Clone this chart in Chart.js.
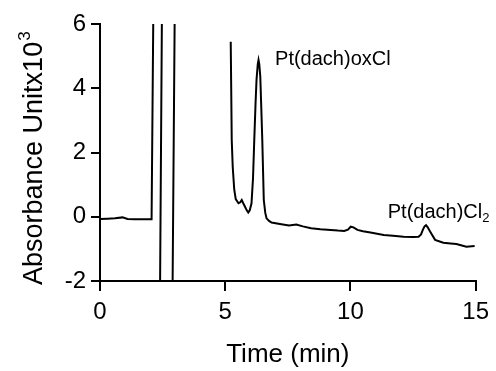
<!DOCTYPE html>
<html>
<head>
<meta charset="utf-8">
<script src="https://cdn.jsdelivr.net/npm/chart.js@4"></script>
<style>
html,body{margin:0;padding:0;background:#fff;}
#wrap{width:496px;height:371px;}
</style>
</head>
<body>
<div id="wrap"><canvas id="c" width="496" height="371"></canvas></div>
<script>
// Retention time (min)
const time = [0, 0.3, 0.6, 0.9, 1.1, 1.4, 1.8, 2.06, 2.136, 2.479, 2.391, 2.89, 2.99, 4.0,
  5.22, 5.26, 5.30, 5.36, 5.42, 5.53, 5.60, 5.66, 5.72, 5.79, 5.86, 5.92, 5.98, 6.05, 6.11, 6.16, 6.21, 6.25,
  6.30, 6.33, 6.36, 6.40, 6.44, 6.48, 6.54, 6.60, 6.65, 6.75,
  6.85, 7.24, 7.55, 7.84, 8.1, 8.43, 8.8, 9.22, 9.5, 9.75, 9.9, 10.01, 10.12, 10.28, 10.5, 10.8, 11.33, 11.7, 12.12, 12.5, 12.72, 12.82, 12.89,
  12.96, 13.02, 13.08, 13.18, 13.38, 13.71, 14.0, 14.23, 14.63, 14.96];
// Absorbance units x 10^3
const absorbance = [-0.07, -0.06, -0.05, -0.02, -0.07, -0.08, -0.08, -0.08, 7, 7, -3, -3, 7, null,
  5.45, 2.39, 1.55, 0.85, 0.55, 0.42, 0.45, 0.52, 0.42, 0.31, 0.2, 0.13, 0.2, 0.42, 1.2, 2.39, 3.5, 4.26,
  4.75, 4.88, 4.75, 4.37, 3.4, 2.39, 0.52, 0.12, -0.05, -0.13,
  -0.18, -0.23, -0.27, -0.24, -0.3, -0.36, -0.39, -0.41, -0.43, -0.44, -0.4, -0.31, -0.33, -0.41, -0.45, -0.49, -0.57, -0.59, -0.62, -0.63, -0.62, -0.55, -0.41,
  -0.3, -0.26, -0.32, -0.46, -0.72, -0.81, -0.83, -0.85, -0.93, -0.91];
const xTicks = [0, 5, 10, 15];
const yTicks = [-2, 0, 2, 4, 6];
const xTitle = 'Time (min)';
const yTitle = ['Absorbance Unitx10', '3'];
// Peak labels: [text, subscript, time, absorbance]
const peakLabels = [
  ["Pt(dach)oxCl", "", 6.99, 4.73],
  ["Pt(dach)Cl", "2", 11.49, -0.05]
];

const points = time.map((t, i) => ({x: t, y: absorbance[i]}));
const FONT = '"Liberation Sans", Arial, sans-serif';

const textPlugin = {
  id: 'texts',
  afterDatasetsDraw(chart) {
    const {ctx, scales: {x, y}} = chart;
    ctx.save();
    ctx.fillStyle = '#000';
    ctx.textBaseline = 'alphabetic';
    ctx.textAlign = 'left';
    peakLabels.forEach(([txt, sub, t, v]) => {
      const px = x.getPixelForValue(t), py = y.getPixelForValue(v);
      ctx.font = '20px ' + FONT;
      ctx.fillText(txt, px, py);
      if (sub) {
        const w = ctx.measureText(txt).width;
        ctx.font = '13px ' + FONT;
        ctx.fillText(sub, px + w, py + 4);
      }
    });
    // rotated y-axis title with superscript
    ctx.translate(42, 285);
    ctx.rotate(-Math.PI / 2);
    ctx.font = '27px ' + FONT;
    ctx.fillText(yTitle[0], 0, 0);
    const w = ctx.measureText(yTitle[0]).width;
    ctx.font = '17px ' + FONT;
    ctx.fillText(yTitle[1], w + 1, -12);
    ctx.restore();
  }
};

new Chart(document.getElementById('c'), {
  type: 'line',
  data: {
    datasets: [{
      data: points,
      borderColor: '#000',
      borderWidth: 2,
      pointRadius: 0,
      tension: 0,
      spanGaps: false,
      clip: 0
    }]
  },
  options: {
    responsive: false,
    animation: false,
    events: [],
    layout: {padding: {top: 24, right: 17, bottom: 0, left: 0}},
    plugins: {legend: {display: false}, tooltip: {enabled: false}},
    scales: {
      x: {
        type: 'linear',
        min: 0, max: 15,
        afterBuildTicks(s) { s.ticks = xTicks.map(v => ({value: v})); },
        afterFit(s) { s.height = 90; },
        border: {display: true, color: '#000', width: 2},
        grid: {drawOnChartArea: false, drawTicks: true, tickLength: 10, color: '#000', lineWidth: 2},
        ticks: {color: '#000', padding: 7, font: {family: FONT, size: 24}},
        title: {display: true, text: xTitle, color: '#000', padding: {top: 0, bottom: 1},
          font: {family: FONT, size: 26}}
      },
      y: {
        type: 'linear',
        min: -2, max: 6,
        afterBuildTicks(s) { s.ticks = yTicks.map(v => ({value: v})); },
        afterFit(s) { s.width = 100; },
        border: {display: true, color: '#000', width: 2},
        grid: {drawOnChartArea: false, drawTicks: true, tickLength: 9, color: '#000', lineWidth: 2},
        ticks: {color: '#000', padding: 5, font: {family: FONT, size: 24}},
        title: {display: false}
      }
    }
  },
  plugins: [textPlugin]
});
</script>
</body>
</html>
